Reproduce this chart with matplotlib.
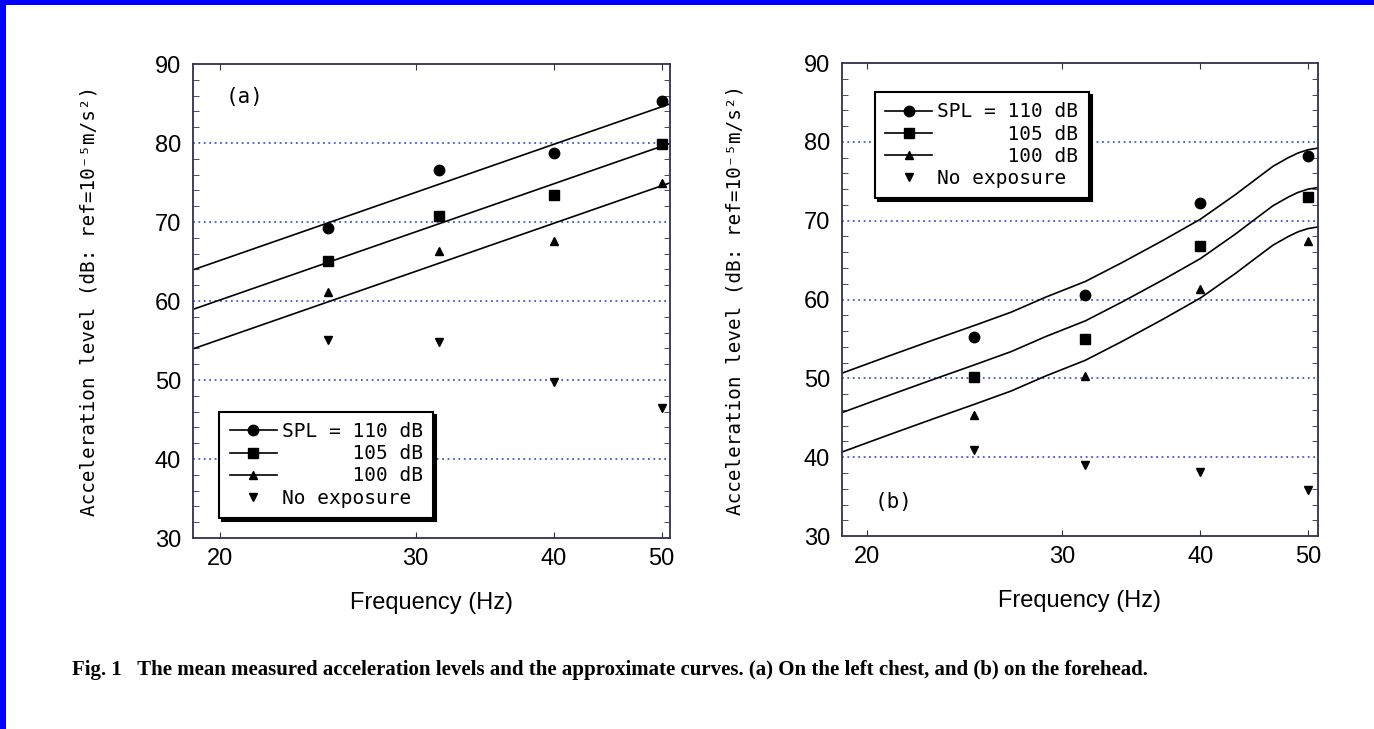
import matplotlib
matplotlib.use("Agg")
import matplotlib.pyplot as plt
from matplotlib.patches import Rectangle
from matplotlib.ticker import MultipleLocator, NullLocator, FixedLocator

# measured points (1/3 octave centre frequencies)
freq = [25, 31.5, 40, 50]

a_110 = [69.2, 76.6, 78.7, 85.3]
a_105 = [65.1, 70.8, 73.4, 79.9]
a_100 = [61.2, 66.3, 67.6, 75.0]
a_none = [55.1, 54.8, 49.7, 46.5]

b_110 = [55.2, 60.6, 72.2, 78.2]
b_105 = [50.2, 55.0, 66.8, 73.0]
b_100 = [45.3, 50.3, 61.4, 67.4]
b_none = [40.9, 39.0, 38.1, 35.8]

# approximate curves, (a) straight lines on log axis
fit_a_f = [18.95, 51]
fit_a_110 = [64.0, 85.0]
fit_a_105 = [59.0, 80.0]
fit_a_100 = [54.0, 75.0]

# (b) curves
fit_b_f = [18.95, 21, 23, 25, 27, 29, 31.5, 34, 37, 40, 43, 45, 46.5, 48, 49, 50, 51]
fit_b_110 = [50.6, 52.9, 54.9, 56.7, 58.4, 60.3, 62.3, 64.7, 67.5, 70.2, 73.3, 75.4, 76.9, 78.0, 78.6, 79.0, 79.2]
fit_b_105 = [45.6, 47.9, 49.9, 51.7, 53.4, 55.3, 57.3, 59.7, 62.5, 65.2, 68.3, 70.4, 71.9, 73.0, 73.6, 74.0, 74.2]
fit_b_100 = [40.6, 42.9, 44.9, 46.7, 48.4, 50.3, 52.3, 54.7, 57.5, 60.2, 63.3, 65.4, 66.9, 68.0, 68.6, 69.0, 69.2]

xticks = [20, 30, 40, 50]
yticks = [30, 40, 50, 60, 70, 80, 90]
labels = ["SPL = 110 dB", "      105 dB", "      100 dB", "No exposure"]

SANS = "Liberation Sans"
MONO = "DejaVu Sans Mono"
GRID = "#3a5ad8"


def panel(ax, fit_f, fits, pts, none, xlim, tag, tag_xy, leg_loc, leg_anchor, ylab_x):
    ax.set_xscale("log")
    ax.set_xlim(*xlim)
    ax.set_ylim(30, 90)
    for y in [40, 50, 60, 70, 80]:
        ax.axhline(y, color=GRID, ls=(0, (1, 2)), lw=1.3, zorder=1)
    mk = ["o", "s", "^"]
    ms = [7.5, 7.5, 6]
    for f, p, m, s in zip(fits, pts, mk, ms):
        ax.plot(fit_f, f, color="black", lw=1.2, zorder=2)
        ax.plot(freq, p, ls="none", marker=m, ms=s, color="black", zorder=3)
    ax.plot(freq, none, ls="none", marker="v", ms=6, color="black", zorder=3)

    h = [plt.Line2D([], [], color="black", lw=1.2, marker=m, ms=s)
         for m, s in zip(mk, ms)]
    h.append(plt.Line2D([], [], ls="none", marker="v", ms=6, color="black"))
    leg = ax.legend(h, labels, loc=leg_loc, bbox_to_anchor=leg_anchor,
                    borderaxespad=0, prop={"family": MONO, "size": 14},
                    handlelength=2.42, handletextpad=0.26, labelspacing=0.16,
                    borderpad=0.54, fancybox=False, framealpha=1,
                    edgecolor="black", shadow={"color": "black", "alpha": 1})
    leg.get_frame().set_linewidth(1.5)

    ax.text(tag_xy[0], tag_xy[1], tag, transform=ax.transAxes, ha="center",
            va="center", family=MONO, fontsize=15)

    ax.xaxis.set_major_locator(FixedLocator(xticks))
    ax.xaxis.set_minor_locator(NullLocator())
    ax.set_xticklabels([str(t) for t in xticks])
    ax.set_yticks(yticks)
    ax.yaxis.set_minor_locator(MultipleLocator(2))
    ax.tick_params(axis="both", which="both", direction="in",
                   top=True, right=True, color="#303050")
    ax.tick_params(axis="y", which="major", length=0, pad=8.5)
    ax.tick_params(axis="y", which="minor", length=4)
    ax.tick_params(axis="x", which="major", length=4, pad=7)
    for lab in ax.get_xticklabels() + ax.get_yticklabels():
        lab.set_family(SANS)
        lab.set_fontsize(17)
    for sp in ax.spines.values():
        sp.set_color("#303050")
        sp.set_linewidth(1.3)

    ax.set_xlabel("Frequency (Hz)", family=SANS, fontsize=17, labelpad=16)
    ax.set_ylabel("Acceleration level (dB: ref=10\u207b\u2075m/s\u00b2)",
                  family=MONO, fontsize=13.9)
    ax.yaxis.set_label_coords(ylab_x, 0.5)


fig = plt.figure(figsize=(13.74, 7.29), dpi=100)
ax1 = fig.add_axes([0.1405, 0.2620, 0.3472, 0.6502])
ax2 = fig.add_axes([0.6128, 0.2647, 0.3464, 0.6488])

panel(ax1, fit_a_f, [fit_a_110, fit_a_105, fit_a_100], [a_110, a_105, a_100],
      a_none, (18.9, 50.9), "(a)", (0.107, 0.930), "lower left", (0.0545, 0.042),
      -0.199)
panel(ax2, fit_b_f, [fit_b_110, fit_b_105, fit_b_100], [b_110, b_105, b_100],
      b_none, (19.0, 51.05), "(b)", (0.109, 0.072), "upper left", (0.069, 0.939),
      -0.204)

fig.text(0.0525, 0.081,
         "Fig. 1   The mean measured acceleration levels and the approximate curves. "
         "(a) On the left chest, and (b) on the forehead.",
         family="Liberation Serif", weight="bold", fontsize=15, va="center")

# blue frame of the scan
fig.add_artist(Rectangle((0, 1 - 5 / 729), 1, 5 / 729, transform=fig.transFigure,
                         color="#0000ff", lw=0))
fig.add_artist(Rectangle((0, 0), 6 / 1374, 1, transform=fig.transFigure,
                         color="#0000ff", lw=0))

fig.savefig("out.png", dpi=100)
